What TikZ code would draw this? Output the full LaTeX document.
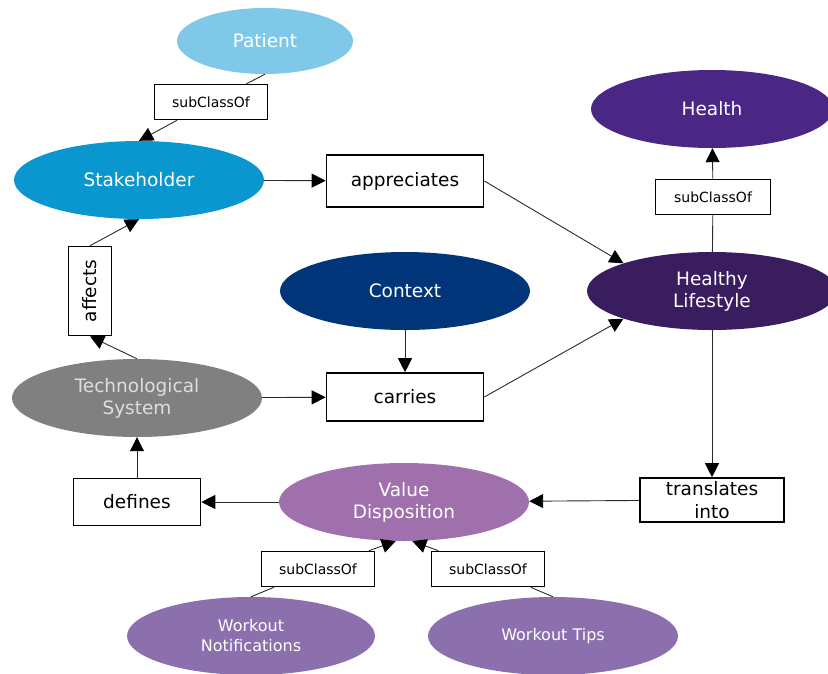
\documentclass[tikz,border=0pt]{standalone}
\usepackage{graphicx}
\usepackage{fontspec}
\setmainfont{DejaVu Sans}
\usepackage{tikz}
\usetikzlibrary{shapes.geometric,arrows.meta}
\definecolor{patientcolor}{HTML}{80C8E8}
\definecolor{stakecolor}{HTML}{0A97CF}
\definecolor{healthcolor}{HTML}{4B2785}
\definecolor{lifecolor}{HTML}{3A1D5E}
\definecolor{contextcolor}{HTML}{003679}
\definecolor{techcolor}{HTML}{808080}
\definecolor{valuecolor}{HTML}{A070AC}
\definecolor{workoutcolor}{HTML}{8B70AD}
\definecolor{linecolor}{HTML}{2A2A2A}

\begin{document}
\begin{tikzpicture}[x=1pt,y=-1pt,
  concept/.style={ellipse,inner sep=0pt,minimum width=250pt,minimum height=78pt,
                  text=white,align=center,font=\fontsize{18.5}{22}\selectfont},
  relation/.style={draw=black,line width=1.6pt,fill=white,inner sep=0pt,align=center,
                   font=\fontsize{18.5}{23}\selectfont},
  subclass/.style={relation,minimum width=113pt,minimum height=35pt,font=\fontsize{14}{16}\selectfont},
  link/.style={draw=linecolor,line width=0.9pt},
  arrowline/.style={link,-{Triangle[length=14pt,width=14pt,color=black]}}]
  \useasboundingbox (0,0) rectangle (828,673);

  % concepts
  \node[concept,fill=patientcolor,minimum width=176pt,minimum height=66pt] (patient) at (265,41) {Patient};
  \node[concept,fill=stakecolor] (stakeholder) at (139,180) {Stakeholder};
  \node[concept,fill=healthcolor,minimum width=242pt] (health) at (712,109) {Health};
  \node[concept,fill=lifecolor] (lifestyle) at (712,291) {Healthy\\Lifestyle};
  \node[concept,fill=contextcolor] (context) at (405,291) {Context};
  \node[concept,fill=techcolor,text=black!13] (techsystem) at (137,398) {Technological\\System};
  \node[concept,fill=valuecolor] (valuedisp) at (404,502) {Value\\Disposition};
  \node[concept,fill=workoutcolor,minimum width=248pt,font=\fontsize{16}{20}\selectfont] (notifications) at (251,636) {Workout\\Notifications};
  \node[concept,fill=workoutcolor,minimum width=250pt,font=\fontsize{16}{20}\selectfont] (tips) at (553,636) {Workout Tips};

  % relations
  \node[subclass] (patientsub) at (211,102) {subClassOf};
  \node[relation,minimum width=157pt,minimum height=52pt] (appreciates) at (405,181) {appreciates};
  \node[subclass,minimum width=115pt] (healthsub) at (713,197) {subClassOf};
  \node[relation,minimum width=43pt,minimum height=89pt] (affects) at (90,291) {\rotatebox{90}{affects}};
  \node[relation,minimum width=157pt,minimum height=48pt] (carries) at (405,397) {carries};
  \node[relation,minimum width=127pt,minimum height=47pt] (defines) at (137,502) {defines};
  \node[relation,minimum width=144pt,minimum height=44pt] (translates) at (712,500) {translates\\into};
  \node[subclass] (notifsub) at (318,569) {subClassOf};
  \node[subclass] (tipssub) at (488,569) {subClassOf};

  % connectors
  \draw[link] (patient.south) -- (patientsub);
  \draw[arrowline] (patientsub) -- (stakeholder.north);
  \draw[arrowline] (stakeholder) -- (appreciates);
  \draw[arrowline] (appreciates.east) -- (lifestyle.north west);
  \draw[link] (lifestyle) -- (healthsub);
  \draw[arrowline] (healthsub) -- (health);
  \draw[arrowline] (techsystem.north) -- (affects.south);
  \draw[arrowline] (affects.north) -- (stakeholder.south);
  \draw[arrowline] (techsystem) -- (carries);
  \draw[arrowline] (context) -- (carries);
  \draw[arrowline] (carries.east) -- (lifestyle.south west);
  \draw[arrowline] (lifestyle) -- (translates);
  \draw[arrowline] (translates) -- (valuedisp);
  \draw[arrowline] (valuedisp) -- (defines);
  \draw[arrowline] (defines) -- (techsystem);
  \draw[link] (notifications.north) -- (notifsub);
  \draw[arrowline] (notifsub) -- (valuedisp.258);
  \draw[link] (tips.north) -- (tipssub);
  \draw[arrowline] (tipssub) -- (valuedisp.282);
\end{tikzpicture}
\end{document}
